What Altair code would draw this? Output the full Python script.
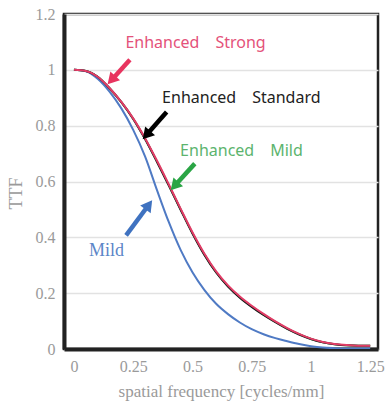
import math
import altair as alt
import pandas as pd

# ---- data -------------------------------------------------------------
freq = [0, 0.05, 0.1, 0.15, 0.2, 0.25, 0.3, 0.35, 0.4, 0.45, 0.5, 0.55, 0.6,
        0.65, 0.7, 0.75, 0.8, 0.85, 0.9, 0.95, 1.0, 1.05, 1.1, 1.15, 1.2, 1.25]
ttf_strong = [1.0, .996, .975, .935, .885, .826, .755, .675, .59, .503, .418, .342, .278,
              .228, .188, .155, .126, .099, .075, .054, .037, .025, .018, .014, .012, .012]
ttf_standard = [1.0, .996, .975, .934, .884, .824, .752, .671, .586, .499, .414, .338, .274,
                .224, .184, .151, .122, .096, .072, .052, .036, .024, .017, .013, .012, .012]
ttf_enh_mild = [1.0, .996, .975, .934, .884, .825, .753, .672, .587, .5, .415, .339, .275,
                .225, .185, .152, .123, .097, .073, .053, .036, .024, .017, .013, .012, .012]
ttf_mild = [1.0, .995, .968, .922, .862, .785, .69, .57, .455, .355, .275, .212, .162,
            .125, .095, .071, .053, .039, .028, .018, .01, .005, .003, .002, .002, .002]

series_names = ["Enhanced Mild", "Mild", "Enhanced Standard", "Enhanced Strong"]
series_values = [ttf_enh_mild, ttf_mild, ttf_standard, ttf_strong]
series_colors = ["#3aa655", "#4f7ac4", "#1a1a1a", "#e33d67"]

# annotation labels
label_texts = ["Enhanced\u3000Strong", "Enhanced\u3000Standard", "Enhanced\u3000Mild", "Mild"]
label_x = [0.217, 0.372, 0.448, 0.063]
label_y = [1.096, 0.898, 0.708, 0.350]
label_colors = ["#e4527a", "#222222", "#5cb46e", "#5b86c8"]
label_fonts = ["Noto Sans", "Noto Sans", "Noto Sans", "Liberation Serif"]

# arrows (tail -> tip)
arrow_tail_x = [0.236, 0.391, 0.510, 0.220]
arrow_tail_y = [1.036, 0.849, 0.664, 0.407]
arrow_tip_x = [0.142, 0.290, 0.408, 0.330]
arrow_tip_y = [0.948, 0.751, 0.569, 0.533]
arrow_colors = ["#e8345f", "#000000", "#2aa545", "#3f72c0"]

x_ticks = [0, 0.25, 0.5, 0.75, 1, 1.25]
y_ticks = [0, 0.2, 0.4, 0.6, 0.8, 1, 1.2]

# ---- layout ---------------------------------------------------------
W, H = 314, 335
XDOM = [-0.042, 1.283]
YDOM = [0, 1.2]
pxx = W / (XDOM[1] - XDOM[0])
pxy = H / (YDOM[1] - YDOM[0])

rows = []
for k, (name, vals) in enumerate(zip(series_names, series_values)):
    for f, v in zip(freq, vals):
        rows.append({"freq": f, "ttf": v, "series": name, "k": k})
df = pd.DataFrame(rows)

xs = alt.Scale(domain=XDOM, nice=False, zero=False)
ys = alt.Scale(domain=YDOM, nice=False)

lines = alt.Chart(df).mark_line(strokeWidth=2, interpolate="monotone", clip=True).encode(
    x=alt.X("freq:Q", scale=xs,
            axis=alt.Axis(values=x_ticks, grid=False, ticks=False,
                          labelExpr="'' + datum.value",
                          labelFont="Liberation Serif", labelFontSize=16, labelColor="#9a9a9a",
                          labelPadding=9, domainColor="#222", domainWidth=4,
                          title="spatial frequency [cycles/mm]", titleFont="Liberation Serif",
                          titleFontSize=17, titleFontWeight="normal", titleColor="#9a9a9a",
                          titleY=42, titleBaseline="middle")),
    y=alt.Y("ttf:Q", scale=ys,
            axis=alt.Axis(values=y_ticks, grid=True, gridColor="#e2e2e2",
                          gridWidth=1.5, ticks=False,
                          labelExpr="'' + datum.value",
                          labelFont="Liberation Serif", labelFontSize=16, labelColor="#9a9a9a",
                          labelPadding=9, domainColor="#222", domainWidth=4,
                          title="TTF", titleFont="Liberation Serif", titleFontSize=18,
                          titleFontWeight="normal", titleColor="#9a9a9a",
                          titleX=-48, titleY=179, titleAlign="center", titleBaseline="middle")),
    color=alt.Color("series:N", scale=alt.Scale(domain=series_names, range=series_colors),
                    legend=None),
    detail="series:N",
)

# annotation text
lab_df = pd.DataFrame({"x": label_x, "y": label_y, "text": label_texts})
texts = []
for i in range(len(label_texts)):
    texts.append(
        alt.Chart(lab_df.iloc[[i]]).mark_text(
            align="left", baseline="middle",
            fontSize=18 if label_fonts[i] == "Liberation Serif" else 16,
            font=label_fonts[i], color=label_colors[i]
        ).encode(x=alt.X("x:Q", scale=xs), y=alt.Y("y:Q", scale=ys), text="text:N")
    )

# arrows
HEAD_SIZE = 170
r = math.sqrt(HEAD_SIZE) / 2
h = math.sqrt(3) * r / 2
shaft_rows, head_rows = [], []
for tx, ty, px, py, c in zip(arrow_tail_x, arrow_tail_y, arrow_tip_x, arrow_tip_y, arrow_colors):
    dxp = (px - tx) * pxx
    dyp = -(py - ty) * pxy
    L = math.hypot(dxp, dyp)
    ux, uy = dxp / L, dyp / L
    ang = math.degrees(math.atan2(dxp, -dyp)) % 360
    cx = px - ux * h / pxx
    cy = py + uy * h / pxy
    shaft_rows.append({"x": tx, "y": ty, "x2": cx, "y2": cy, "c": c})
    head_rows.append({"x": cx, "y": cy, "angle": ang, "c": c})
shaft_df = pd.DataFrame(shaft_rows)
head_df = pd.DataFrame(head_rows)

shafts = alt.Chart(shaft_df).mark_rule(strokeWidth=4.5, strokeCap="butt").encode(
    x=alt.X("x:Q", scale=xs), y=alt.Y("y:Q", scale=ys),
    x2="x2:Q", y2="y2:Q", color=alt.Color("c:N", scale=None))
heads = alt.Chart(head_df).mark_point(shape="triangle-up", filled=True, size=HEAD_SIZE,
                                      opacity=1, strokeWidth=0).encode(
    x=alt.X("x:Q", scale=xs), y=alt.Y("y:Q", scale=ys),
    angle=alt.Angle("angle:Q", scale=None), color=alt.Color("c:N", scale=None))

chart = alt.layer(lines, *texts, shafts, heads).properties(
    width=W, height=H,
    padding={"left": 64, "top": 14, "right": 8, "bottom": 54},
    autosize=alt.AutoSizeParams(type="none"),
    background="white",
).configure_view(stroke="#222", strokeWidth=2.5)

chart.save("out.html", embed_options={"renderer": "svg", "actions": False})
